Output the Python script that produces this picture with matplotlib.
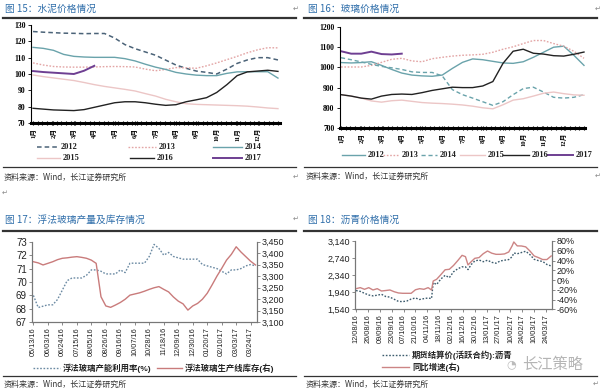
import numpy as np
import pandas as pd
import matplotlib
matplotlib.use("Agg")
import matplotlib.pyplot as plt
from matplotlib.lines import Line2D
from matplotlib.ticker import MultipleLocator, FuncFormatter

plt.rcParams['font.family'] = ['Noto Sans CJK SC', 'DejaVu Sans']

W, H = 600, 392

#==================== data: fig 15 cement price (half-month steps) ====================#
months = ['1月', '2月', '3月', '4月', '5月', '6月', '7月', '8月', '9月', '10月', '11月', '12月']
half_month = np.arange(25) / 2.0
cement_2012 = [126.0, 125.6, 125.3, 125.0, 124.9, 124.7, 124.8, 124.8, 122.0, 118.0, 115.5, 113.5, 111.5,
               108.5, 105.5, 103.5, 101.8, 101.0, 100.0, 103.0, 106.5, 108.6, 110.0, 110.0, 108.6]
cement_2013 = [106.8, 105.5, 104.6, 104.3, 104.2, 104.2, 104.3, 104.5, 104.6, 104.5, 104.3, 103.0, 102.0,
               102.8, 103.9, 103.8, 103.5, 105.0, 106.8, 108.8, 110.8, 113.0, 114.8, 116.1, 116.0]
cement_2014 = [116.3, 115.7, 114.5, 112.0, 110.8, 110.4, 110.2, 110.2, 110.2, 109.4, 108.0, 106.0, 104.2,
               102.8, 101.0, 100.0, 99.3, 99.0, 99.0, 100.4, 101.3, 101.4, 101.4, 101.4, 97.5]
cement_2015 = [99.4, 98.4, 97.6, 96.8, 96.0, 94.8, 93.5, 92.4, 91.5, 90.6, 89.6, 88.0, 86.5,
               84.5, 83.0, 81.8, 81.4, 81.2, 81.0, 80.8, 80.6, 80.3, 79.8, 79.2, 78.8]
cement_2016 = [79.0, 78.5, 78.0, 77.8, 77.6, 78.2, 79.6, 81.0, 82.4, 83.0, 83.0, 82.4, 81.5,
               80.8, 81.2, 83.0, 84.2, 85.5, 88.7, 93.5, 99.0, 101.3, 101.8, 102.3, 101.6]
cement_2017 = [101.8, 101.2, 100.8, 100.4, 100.0, 102.0, 105.0]

#==================== data: fig 16 glass price ====================#
glass_2012 = [1024, 1022, 1024, 1028, 1010, 990, 972, 962, 958, 956, 962, 995, 1025,
              1042, 1038, 1030, 1022, 1020, 1028, 1050, 1075, 1100, 1105, 1060, 1010]
glass_2013 = [1002, 1002, 1002, 1010, 1025, 1040, 1045, 1032, 1028, 1043, 1050, 1056, 1060,
              1062, 1065, 1075, 1090, 1102, 1118, 1133, 1133, 1118, 1105, 1080, 1045]
glass_2014 = [1048, 1038, 1027, 1015, 1005, 998, 990, 978, 975, 975, 958, 890, 865,
              848, 830, 812, 830, 865, 895, 902, 878, 852, 848, 852, 865]
glass_2015 = [865, 858, 848, 834, 828, 835, 838, 832, 826, 823, 821, 818, 814,
              808, 800, 795, 815, 838, 845, 858, 872, 878, 870, 864, 862]
glass_2016 = [865, 858, 848, 843, 858, 866, 868, 866, 875, 886, 894, 902, 900,
              900, 908, 930, 1020, 1080, 1090, 1070, 1066, 1058, 1056, 1065, 1076]
glass_2017 = [1080, 1068, 1068, 1078, 1066, 1064, 1068]

#==================== data: fig 17 float glass (weekly) ====================#
glass_weeks = pd.date_range('2016-05-13', periods=47, freq='7D')
utilization = [69.0, 68.1, 68.2, 68.3, 68.3, 68.7, 69.4, 70.1, 70.3, 70.3, 70.3, 70.5, 70.9, 70.9, 70.8, 70.6,
               70.6, 70.6, 70.9, 70.7, 71.4, 71.4, 71.4, 71.4, 71.9, 72.8, 72.5, 72.0, 72.2, 71.9, 71.8, 71.7,
               71.7, 71.7, 71.7, 71.3, 71.2, 71.1, 71.0, 70.8, 70.6, 70.9, 70.9, 71.0, 71.2, 71.3, 71.2]
inventory = [3363, 3358, 3349, 3356, 3363, 3372, 3378, 3380, 3383, 3385, 3382, 3378, 3370, 3356, 3211, 3171,
             3165, 3175, 3186, 3200, 3218, 3223, 3228, 3235, 3243, 3250, 3255, 3243, 3232, 3210, 3192, 3180,
             3153, 3171, 3182, 3200, 3226, 3262, 3300, 3334, 3370, 3395, 3428, 3405, 3385, 3365, 3349]

#==================== data: fig 18 asphalt ====================#
asphalt_start = pd.Timestamp('2016-08-12')
asphalt_day = [0, 5, 10, 15, 20, 25, 30, 35, 40, 45, 50, 55, 60, 65, 70, 75, 80, 85, 89, 91, 95, 100, 105,
               110, 115, 120, 125, 129, 132, 136, 140, 145, 150, 155, 160, 165, 170, 175, 180, 184, 186,
               190, 195, 200, 205, 210, 215, 220, 225, 230]
asphalt_price = [1979, 1960, 1915, 1875, 1855, 1870, 1892, 1840, 1825, 1775, 1725, 1720, 1735, 1780, 1805,
                 1770, 1790, 1805, 1791, 2165, 2120, 2250, 2335, 2282, 2420, 2490, 2535, 2535, 2470, 2594,
                 2672, 2695, 2655, 2690, 2640, 2620, 2672, 2690, 2705, 2770, 2860, 2840, 2870, 2900, 2820,
                 2711, 2680, 2660, 2590, 2555]
asphalt_yoy = [-17.7, -15.6, -19.0, -15.6, -20.4, -17.7, -22.5, -21.5, -20.4, -24.0, -26.5, -27.2, -27.2,
               -27.2, -20.0, -17.7, -19.0, -15.6, -20.4, -2.0, 1.5, 11.0, 21.0, 22.0, 30.0, 40.0, 50.6,
               47.9, 31.0, 38.0, 44.5, 46.0, 54.0, 59.5, 55.0, 52.7, 52.7, 53.5, 57.5, 70.0, 78.0, 70.0,
               69.8, 68.0, 59.5, 49.3, 46.0, 42.0, 42.0, 49.3]

#==================== style ====================#
TITLE_C = '#2F6EAA'
C_TEAL = '#6aa3ab'
C_DASH = '#4b6378'
C_PINK = '#e3a5a5'
C_LPINK = '#ecc6c6'
C_BLACK = '#222222'
C_PURPLE = '#6e3f92'
SERIF = ['Liberation Serif', 'Noto Sans CJK SC']
SANS = ['Liberation Sans', 'Noto Sans CJK SC']

fig = plt.figure(figsize=(6, 3.92), dpi=100)


def rect(x0, y0, x1, y1):
    return [x0 / W, 1 - y1 / H, (x1 - x0) / W, (y1 - y0) / H]


def ftext(x, y, s, **kw):
    kw.setdefault('va', 'center')
    fig.text(x / W, 1 - y / H, s, **kw)


def hline(x0, x1, y, lw=1.0, color='#333333', **kw):
    fig.add_artist(Line2D([x0 / W, x1 / W], [1 - y / H, 1 - y / H], lw=lw, color=color, **kw))


def legend_item(x0, x1, y, label, size=6, family=SERIF, weight='bold', **kw):
    hline(x0, x1, y, **kw)
    ftext(x1 + 3, y, label, fontsize=size, family=family, weight=weight, color='#222222')


def style_fonts(labels, family, size, weight='normal'):
    for lb in labels:
        lb.set_fontfamily(family)
        lb.set_fontsize(size)
        lb.set_fontweight(weight)


# frame texts
ftext(5, 9, '图 15：水泥价格情况', fontsize=7, color=TITLE_C)
ftext(308, 9, '图 16：玻璃价格情况', fontsize=7, color=TITLE_C)
ftext(5, 220, '图 17：浮法玻璃产量及库存情况', fontsize=7, color=TITLE_C)
ftext(308, 220, '图 18：沥青价格情况', fontsize=7, color=TITLE_C)
hline(3, 296, 17.5, lw=1.6)
hline(304, 597, 17.5, lw=1.6)
hline(3, 296, 231, lw=1.6)
hline(304, 597, 231, lw=1.6)
hline(3, 296, 167, lw=0.9)
hline(304, 597, 167, lw=0.9)
hline(3, 296, 376, lw=0.9)
hline(304, 597, 376, lw=0.9)
src = '资料来源：Wind，长江证券研究所'
ftext(4, 177, src, fontsize=5.8, color='#333333')
ftext(306, 176, src, fontsize=5.8, color='#333333')
ftext(4, 384, src, fontsize=5.8, color='#333333')
ftext(306, 384, src, fontsize=5.8, color='#333333')
for px, py in [(293, 9), (595, 9), (293, 177), (2, 193), (293, 219), (595, 176), (593, 384)]:
    ftext(px, py, '↵', fontsize=5, color='#888888', family='DejaVu Sans')

#========================fig 15==========================#
ax1 = fig.add_axes(rect(31, 25, 280, 123))
ax1.plot(half_month, cement_2012, color=C_DASH, lw=1.1, ls=(0, (3, 2)))
ax1.plot(half_month, cement_2013, color=C_PINK, lw=1.0, ls=(0, (1.2, 1.2)))
ax1.plot(half_month, cement_2014, color=C_TEAL, lw=1.0)
ax1.plot(half_month, cement_2015, color=C_LPINK, lw=1.0)
ax1.plot(half_month, cement_2016, color=C_BLACK, lw=1.0)
ax1.plot(half_month[:len(cement_2017)], cement_2017, color=C_PURPLE, lw=1.4)
ax1.set_xlim(-0.1, 12.1)
ax1.set_ylim(70, 130)
ax1.set_yticks(range(70, 131, 10))
ax1.set_xticks(range(12))
ax1.set_xticklabels(months, rotation=90)
ax1.xaxis.set_minor_locator(MultipleLocator(12 / 52))

#========================fig 16==========================#
ax2 = fig.add_axes(rect(340, 27, 585, 128))
ax2.plot(half_month, glass_2012, color=C_TEAL, lw=1.0)
ax2.plot(half_month, glass_2013, color=C_PINK, lw=1.0, ls=(0, (1.2, 1.2)))
ax2.plot(half_month, glass_2014, color=C_TEAL, lw=1.0, ls=(0, (3, 2)))
ax2.plot(half_month, glass_2015, color=C_LPINK, lw=1.0)
ax2.plot(half_month, glass_2016, color=C_BLACK, lw=1.0)
ax2.plot(half_month[:len(glass_2017)], glass_2017, color=C_PURPLE, lw=1.4)
ax2.set_xlim(-0.05, 12.05)
ax2.set_ylim(700, 1200)
ax2.set_yticks(range(700, 1201, 100))
ax2.set_xticks(range(12))
ax2.set_xticklabels(months, rotation=90)
ax2.xaxis.set_minor_locator(MultipleLocator(12 / 52))

for ax in (ax1, ax2):
    for s in ('top', 'right'):
        ax.spines[s].set_visible(False)
    ax.spines['left'].set_linewidth(0.8)
    ax.spines['bottom'].set_linewidth(2.2)
    ax.tick_params(axis='y', length=2, width=0.6, pad=2)
    ax.tick_params(axis='x', which='both', length=3, width=0.8, direction='inout', pad=2)
    style_fonts(ax.get_yticklabels(), SERIF, 5.5, 'bold')
    style_fonts(ax.get_xticklabels(), SERIF, 4.8, 'bold')
    ax.set_facecolor('none')

# legend fig 15
legend_item(37, 58, 147, '2012', color=C_DASH, lw=1.1, ls=(0, (3, 2)))
legend_item(128, 156, 147, '2013', color=C_PINK, lw=1.0, ls=(0, (1.2, 1.2)))
legend_item(213, 242, 147, '2014', color=C_TEAL, lw=1.0)
legend_item(37, 60, 158, '2015', color=C_LPINK, lw=1.0)
legend_item(130, 154, 158, '2016', color=C_BLACK, lw=1.0)
legend_item(213, 242, 158, '2017', color=C_PURPLE, lw=1.4)

# legend fig 16
legend_item(342, 365, 155, '2012', color=C_TEAL, lw=1.0)
legend_item(383, 399, 155, '2013', color=C_PINK, lw=1.0, ls=(0, (1.2, 1.2)))
legend_item(421, 437, 155, '2014', color=C_TEAL, lw=1.0, ls=(0, (3, 2)))
legend_item(460, 485, 155, '2015', color=C_LPINK, lw=1.0)
legend_item(503, 529, 155, '2016', color=C_BLACK, lw=1.0)
legend_item(548, 573, 155, '2017', color=C_PURPLE, lw=1.4)

#========================fig 17==========================#
C_UTIL = '#6b8aa3'
C_INV = '#c97b7b'
week_idx = np.arange(len(glass_weeks))
ax3 = fig.add_axes(rect(31.7, 241.7, 256.7, 322.3))
ax3r = ax3.twinx()
ax3.plot(week_idx, utilization, color=C_UTIL, lw=1.0, ls=(0, (1.2, 1.2)))
ax3r.plot(week_idx, inventory, color=C_INV, lw=1.0)
ax3.set_xlim(-0.35, 46.25)
ax3.set_ylim(67, 73)
ax3.set_yticks(range(67, 74))
ax3r.set_ylim(3100, 3450)
ax3r.set_yticks(range(3100, 3451, 50))
ax3r.yaxis.set_major_formatter(FuncFormatter(lambda v, p: f'{int(v):,}'))
ax3.set_xticks(week_idx[::3])
ax3.set_xticklabels(glass_weeks[::3].strftime('%m/%d/%y'), rotation=90)

#========================fig 18==========================#
C_PRICE = '#3d5c6e'
C_YOY = '#cc8585'
ax4 = fig.add_axes(rect(355, 241, 552, 309.3))
ax4r = ax4.twinx()
ax4.plot(asphalt_day, asphalt_price, color=C_PRICE, lw=1.0, ls=(0, (1.2, 1.2)))
ax4r.plot(asphalt_day, asphalt_yoy, color=C_YOY, lw=1.0)
ax4.set_xlim(-1.2, 231)
ax4.set_ylim(1540, 3140)
ax4.set_yticks(range(1540, 3141, 400))
ax4.yaxis.set_major_formatter(FuncFormatter(lambda v, p: f'{int(v):,}'))
ax4r.set_ylim(-60, 80)
ax4r.set_yticks(range(-60, 81, 20))
ax4r.yaxis.set_major_formatter(FuncFormatter(lambda v, p: f'{int(v)}%'))
tick_days = list(range(0, 225, 14))
ax4.set_xticks(tick_days)
ax4.set_xticklabels([(asphalt_start + pd.Timedelta(days=d)).strftime('%d/%m/%y') for d in tick_days],
                    rotation=90)

for ax, axr in ((ax3, ax3r), (ax4, ax4r)):
    for a in (ax, axr):
        a.spines['top'].set_visible(False)
        for s in ('left', 'right', 'bottom'):
            a.spines[s].set_color('#777777')
            a.spines[s].set_linewidth(0.8)
        a.tick_params(length=2, width=0.6, pad=1.5, colors='#777777', labelcolor='#222222')
    ax.set_facecolor('none')
    style_fonts(ax.get_xticklabels(), SANS, 5.3)

style_fonts(ax3.get_yticklabels(), SANS, 7)
style_fonts(ax3r.get_yticklabels(), SANS, 6.5)
style_fonts(ax4.get_yticklabels(), SANS, 6.5)
style_fonts(ax4r.get_yticklabels(), SANS, 6.5)

legend_item(33, 60, 368, '浮法玻璃产能利用率(%)', size=6, family=SANS, color=C_UTIL, lw=1.0, ls=(0, (1.2, 1.2)))
legend_item(157, 182, 368, '浮法玻璃生产线库存(右)', size=6, family=SANS, color=C_INV, lw=1.0)

legend_item(382, 409, 355, '期货结算价(活跃合约):沥青', size=6, family=SANS, color=C_PRICE, lw=1.0,
            ls=(0, (1.2, 1.2)))
legend_item(382, 409, 367, '同比增速(右)', size=6, family=SANS, color=C_YOY, lw=1.0)
ftext(506, 364, '◔', fontsize=8, color='#bbbbbb', family='DejaVu Sans')
ftext(522, 364, '长江策略', fontsize=11, color='#b5b5b5')

fig.savefig('out.png', dpi=100)
